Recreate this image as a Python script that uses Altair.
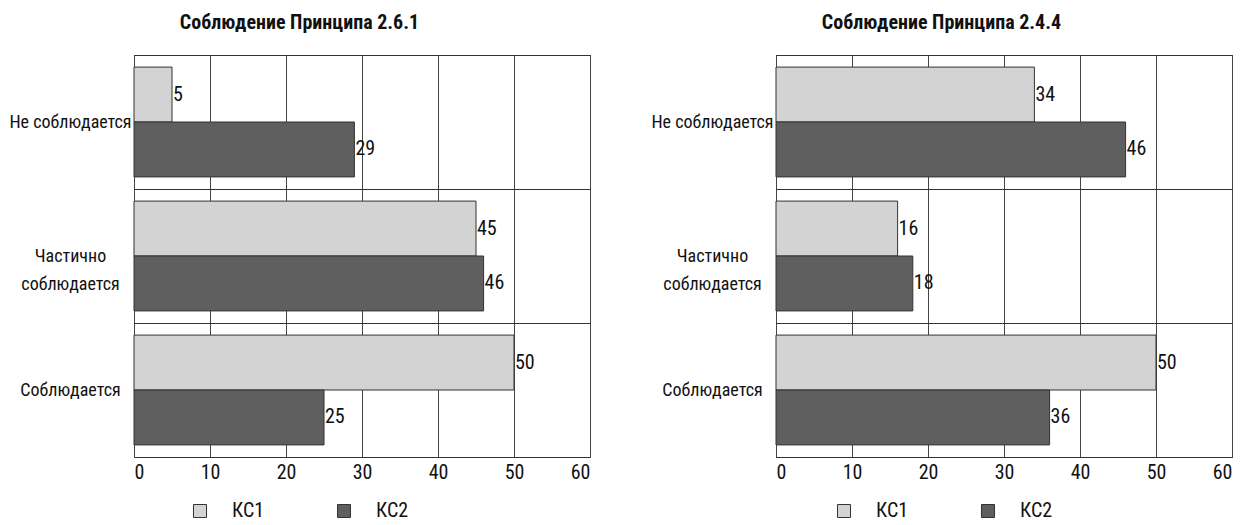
import altair as alt
import pandas as pd

categories = ["Не соблюдается", "Частично\nсоблюдается", "Соблюдается"]
series = ["КС1", "КС2"]
titles = ["Соблюдение Принципа 2.6.1", "Соблюдение Принципа 2.4.4"]
p1_kc1 = [5, 45, 50]
p1_kc2 = [29, 46, 25]
p2_kc1 = [34, 16, 50]
p2_kc2 = [46, 18, 36]
x_ticks = [0, 10, 20, 30, 40, 50, 60]

FONT = "Roboto Condensed"
colors = ["#d3d3d3", "#5f5f5f"]


def make_df(kc1, kc2):
    rows = []
    for c, a, b in zip(categories, kc1, kc2):
        rows.append({"cat": c, "series": series[0], "value": a})
        rows.append({"cat": c, "series": series[1], "value": b})
    return pd.DataFrame(rows)


def panel(df, title, legend_x):
    y = alt.Y("cat:N", sort=categories, title=None,
              scale=alt.Scale(paddingInner=0, paddingOuter=0),
              axis=alt.Axis(labelExpr="isValid(datum.value) ? split(datum.value, '\\n') : ''",
                            labelAlign="center", labelPadding=64,
                            labelFontSize=18, labelFont=FONT, labelColor="#111",
                            labelLineHeight=28,
                            ticks=False, domain=False, grid=True,
                            tickBand="extent", gridColor="#333", gridOpacity=1))
    yoff = alt.YOffset("series:N", sort=series,
                       scale=alt.Scale(paddingInner=0, paddingOuter=0.22))
    x = alt.X("value:Q", title=None,
              scale=alt.Scale(domain=[0, 60]),
              axis=alt.Axis(values=x_ticks, ticks=False, domain=False,
                            grid=True, gridColor="#444", gridOpacity=1,
                            labelFontSize=20, labelFont=FONT, labelColor="#111",
                            labelPadding=5))
    bars = alt.Chart(df).mark_bar(stroke="#333", strokeWidth=1).encode(
        y=y, yOffset=yoff, x=x,
        color=alt.Color("series:N", sort=series,
                        scale=alt.Scale(domain=series, range=colors),
                        legend=alt.Legend(title=None, orient="none",
                                          direction="horizontal",
                                          legendX=legend_x, legendY=446,
                                          symbolType="square", symbolSize=169,
                                          symbolStrokeColor="#333",
                                          symbolStrokeWidth=1,
                                          labelFontSize=20, labelFont=FONT,
                                          labelColor="#111",
                                          labelOffset=22, columnPadding=69,
                                          padding=0)),
    )
    text = alt.Chart(df).mark_text(align="left", baseline="middle", dx=1,
                                   fontSize=20, font=FONT, color="#111").encode(
        y=alt.Y("cat:N", sort=categories), yOffset=alt.YOffset("series:N", sort=series),
        x="value:Q", text="value:Q")
    return alt.layer(bars, text).properties(
        width=456, height=402,
        title=alt.TitleParams(title, font=FONT, fontSize=20, fontWeight="bold",
                              color="#111", anchor="middle", frame="bounds",
                              offset=13),
    )


left = panel(make_df(p1_kc1, p1_kc2), titles[0], 56)
right = panel(make_df(p2_kc1, p2_kc2), titles[1], 58)

chart = alt.hconcat(left, right, spacing=186, bounds="flush").resolve_scale(
    color="independent").resolve_legend(color="independent").configure_view(
    stroke="#333", strokeWidth=1).properties(
    padding={"left": 0, "top": 4, "right": 5, "bottom": 2},
    background="white")

chart.save("out.html", embed_options={"renderer": "svg", "actions": False})
